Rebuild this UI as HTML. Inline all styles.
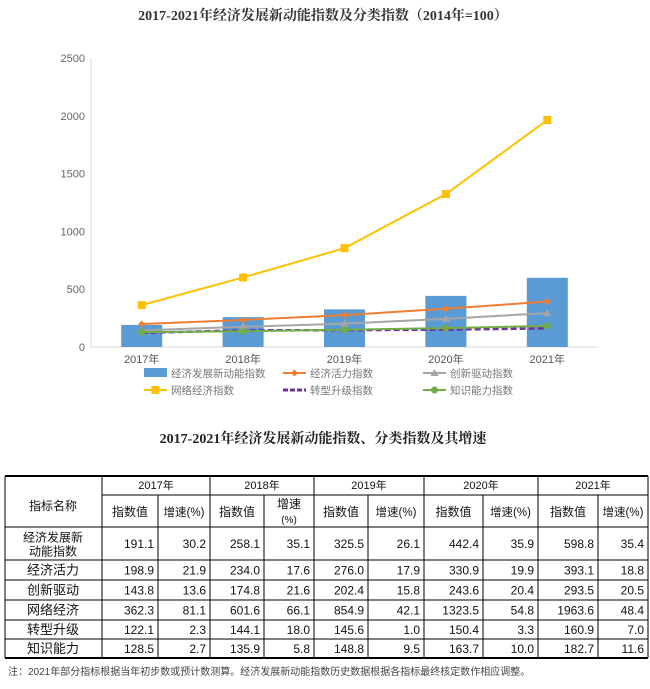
<!DOCTYPE html>
<html><head><meta charset="utf-8"><style>
body{margin:0;background:#fff;}
svg{display:block;font-family:"Liberation Serif","Noto Serif CJK SC",serif;}
</style></head><body>
<svg id="svg" width="650" height="689" viewBox="0 0 650 689" xmlns="http://www.w3.org/2000/svg">
<text x="323" y="20" text-anchor="middle" font-size="14" font-weight="bold" fill="#333">2017-2021年经济发展新动能指数及分类指数（2014年=100）</text>
<g id="chart"></g>
<text x="323" y="443" text-anchor="middle" font-size="14" font-weight="bold" fill="#222">2017-2021年经济发展新动能指数、分类指数及其增速</text>
<g id="table"></g>
<text x="8" y="675" font-size="10" fill="#444" font-family="Liberation Sans,'Noto Sans CJK SC',sans-serif">注：2021年部分指标根据当年初步数或预计数测算。经济发展新动能指数历史数据根据各指标最终核定数作相应调整。</text>
</svg>
<script>
const categories=["2017年","2018年","2019年","2020年","2021年"];
const yTicks=[0,500,1000,1500,2000,2500];
const barValues=[191.1,258.1,325.5,442.4,598.8];
const vitality=[198.9,234.0,276.0,330.9,393.1];
const innovation=[143.8,174.8,202.4,243.6,293.5];
const network=[362.3,601.6,854.9,1323.5,1963.6];
const transform=[122.1,144.1,145.6,150.4,160.9];
const knowledge=[128.5,135.9,148.8,163.7,182.7];
const rowNames=[["经济发展新","动能指数"],["经济活力"],["创新驱动"],["网络经济"],["转型升级"],["知识能力"]];
const growth=[[30.2,35.1,26.1,35.9,35.4],[21.9,17.6,17.9,19.9,18.8],[13.6,21.6,15.8,20.4,20.5],[81.1,66.1,42.1,54.8,48.4],[2.3,18.0,1.0,3.3,7.0],[2.7,5.8,9.5,10.0,11.6]];

const NS="http://www.w3.org/2000/svg";
function mk(tag,attrs,parent,text){const e=document.createElementNS(NS,tag);for(const k in attrs)e.setAttribute(k,attrs[k]);if(text!==undefined)e.textContent=text;parent.appendChild(e);return e;}
const chart=document.getElementById('chart');
const x0=91,x1=598,yBase=347,yTop=58,maxV=2500;
const band=(x1-x0)/categories.length;
const xs=i=>x0+band*(i+0.5);
const ys=v=>yBase-(v/maxV)*(yBase-yTop);
const sans="Liberation Sans,'Noto Sans CJK SC',sans-serif";
yTicks.forEach(t=>{const e=mk('text',{x:x0-6,y:ys(t)+4,'text-anchor':'end','font-size':11,fill:'#666','font-family':sans},chart,String(t));

});
let ax=mk('line',{x1:x0,y1:yTop,x2:x0,y2:yBase,stroke:'#d9d9d9'},chart);


let bx=mk('line',{x1:x0,y1:yBase,x2:x1,y2:yBase,stroke:'#d9d9d9'},chart);


barValues.forEach((v,i)=>{const r=mk('rect',{x:xs(i)-20.5,y:ys(v),width:41,height:yBase-ys(v),fill:'#5b9bd5'},chart);

});
categories.forEach((c,i)=>{const e=mk('text',{x:xs(i),y:yBase+16,'text-anchor':'middle','font-size':11,fill:'#555','font-family':sans},chart,c);

});
function series(vals,color,width,dash,marker,name){
 const g=mk('g',{},chart);
 
 
 mk('polyline',{points:vals.map((v,i)=>xs(i)+','+ys(v)).join(' '),fill:'none',stroke:color,'stroke-width':width,'stroke-dasharray':dash||'none'},g);
 vals.forEach((v,i)=>drawMarker(g,marker,xs(i),ys(v),color));
}
function drawMarker(g,m,x,y,c){
 if(m==='square')mk('rect',{x:x-4,y:y-4,width:8,height:8,fill:c},g);
 else if(m==='diamond')mk('path',{d:`M${x},${y-3.5}L${x+3.5},${y}L${x},${y+3.5}L${x-3.5},${y}Z`,fill:c},g);
 else if(m==='triangle')mk('path',{d:`M${x},${y-4}L${x+4},${y+3}L${x-4},${y+3}Z`,fill:c},g);
 else if(m==='circle')mk('circle',{cx:x,cy:y,r:3.5,fill:c},g);
}
series(innovation,'#a5a5a5',2,null,'triangle','series-innovation');
series(transform,'#7030a0',2.5,'6,3',null,'series-transformation');
series(knowledge,'#70ad47',2,null,'circle','series-knowledge');
series(vitality,'#ed7d31',2,null,'diamond','series-vitality');
series(network,'#ffc000',2,null,'square','series-network');
// legend
const legend=[["bar","#5b9bd5","经济发展新动能指数",144,373],["diamond","#ed7d31","经济活力指数",283,373],["triangle","#a5a5a5","创新驱动指数",423,373],
["square","#ffc000","网络经济指数",144,390],["dash","#7030a0","转型升级指数",283,390],["circle","#70ad47","知识能力指数",423,390]];
legend.forEach(l=>{const g=mk('g',{},chart);
 
 
 const [t,c,label,x,y]=l;
 if(t==='bar')mk('rect',{x:x,y:y-5,width:23,height:9,fill:c},g);
 else{mk('line',{x1:x,y1:y,x2:x+23,y2:y,stroke:c,'stroke-width':t==='dash'?3:2,'stroke-dasharray':t==='dash'?'5,2':'none'},g);
  if(t!=='dash')drawMarker(g,t,x+11.5,y,c);}
 mk('text',{x:x+27,y:y+4,'font-size':10.5,fill:'#777','font-family':sans},g,label);
});
// table
const tb=document.getElementById('table');
const cx=[5,102,158,210,264,314,368,424,483,538,598,648];
const ry=[476,495,527,560,580,600,620,639,658];
const ts="Liberation Sans,'Noto Sans CJK SC',sans-serif";
function ln(a,b,c,d,w){const e=mk('line',{x1:a,y1:b,x2:c,y2:d,stroke:'#000','stroke-width':w||1},tb);

}
ln(5,ry[0],648,ry[0],2);ln(5,ry[8],648,ry[8],2);
ln(102,ry[1],648,ry[1]);
for(let r=2;r<8;r++)ln(5,ry[r],648,ry[r]);
ln(5,ry[0],5,ry[8]);ln(648,ry[0],648,ry[8]);
for(let c=1;c<11;c++){ln(cx[c],(c%2===0)?ry[1]:ry[0],cx[c],ry[8]);}
function tx(x,y,s,anchor,fs){const e=mk('text',{x:x,y:y,'text-anchor':anchor||'middle','font-size':fs||12,fill:'#111','font-family':ts},tb,s);

}
tx(53,510,'指标名称');
categories.forEach((c,i)=>{tx((cx[1+2*i]+cx[3+2*i])/2,489,c,'middle',11);
 tx((cx[1+2*i]+cx[2+2*i])/2,516,'指数值');
 if(i===1){tx((cx[2+2*i]+cx[3+2*i])/2,508,'增速');tx((cx[2+2*i]+cx[3+2*i])/2,523,'(%)','middle',10);}
 else tx((cx[2+2*i]+cx[3+2*i])/2,516,'增速(%)','middle',11.5);
});
const idx=[barValues,vitality,innovation,network,transform,knowledge];
rowNames.forEach((n,r)=>{const mid=(ry[r+2]+ry[r+3])/2;
 if(n.length===2){tx(53,mid-2,n[0]);tx(53,mid+12,n[1]);}else tx(53,mid+4.5,n[0],'middle',13);
 for(let i=0;i<5;i++){
  tx(cx[2+2*i]-4,mid+4.5,idx[r][i].toFixed(1),'end',12);
  tx(cx[3+2*i]-4,mid+4.5,growth[r][i].toFixed(1),'end',12);
 }
});
</script>
</body></html>
